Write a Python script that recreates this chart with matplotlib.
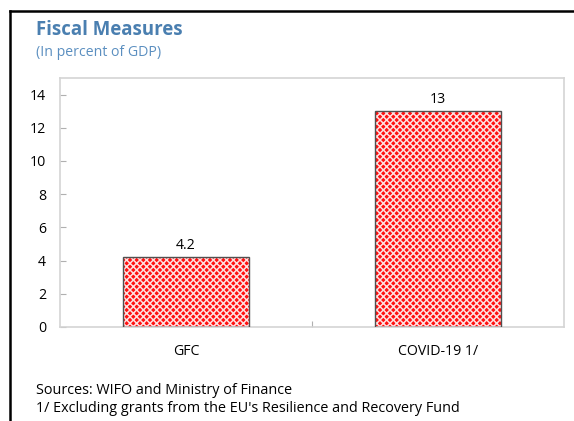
import matplotlib.pyplot as plt
from matplotlib.lines import Line2D

# Data
categories = ['GFC', 'COVID-19 1/']
values = [4.2, 13]
value_labels = ['4.2', '13']
yticks = [0, 2, 4, 6, 8, 10, 12, 14]

plt.rcParams['font.family'] = ['Open Sans', 'DejaVu Sans']
plt.rcParams['hatch.linewidth'] = 1.1

fig = plt.figure(figsize=(5.74, 4.21), dpi=100)
ax = fig.add_axes([60 / 574, 94 / 421, 504 / 574, 249 / 421])

x = range(len(categories))
# hatched fill (white crosshatch on red)
ax.bar(x, values, width=0.5, color='#ff1010', edgecolor='#ffe0e0', hatch='xxxxx', linewidth=0, zorder=2)
# outline
ax.bar(x, values, width=0.5, fill=False, edgecolor='#505050', linewidth=1.0, zorder=3)

for xi, v, lab in zip(x, values, value_labels):
    ax.text(xi, v + 0.25, lab, ha='center', va='bottom', fontsize=10.2)

ax.set_xlim(-0.5, 1.5)
ax.set_ylim(0, 15)
ax.set_yticks(yticks)
ax.set_xticks([0.5], minor=False)
ax.set_xticklabels([''])
for xi, c in zip(x, categories):
    ax.text(xi, -1.0, c, ha='center', va='top', fontsize=10.2)

for s in ax.spines.values():
    s.set_color('#d4d4d4')
    s.set_linewidth(1.2)
ax.tick_params(axis='y', direction='in', length=4, color='#b0b0b0', labelsize=10.2, pad=10)
ax.tick_params(axis='x', direction='in', length=4, color='#b0b0b0')

# Titles
fig.text(36 / 574, 1 - 30 / 421, 'Fiscal Measures', fontsize=13.4, fontweight='bold',
         color='#4a7fb0', va='center', ha='left')
fig.text(36 / 574, 1 - 52 / 421, '(In percent of GDP)', fontsize=10.2,
         color='#5b8fc0', va='center', ha='left')

# Footnotes
fig.text(36 / 574, 1 - 390 / 421, 'Sources: WIFO and Ministry of Finance', fontsize=10.4, va='center', ha='left')
fig.text(36 / 574, 1 - 409 / 421, "1/ Excluding grants from the EU's Resilience and Recovery Fund",
         fontsize=10.4, va='center', ha='left')

# Frame lines (left and top)
fig.add_artist(Line2D([10 / 574, 10 / 574], [0, 1 - 11 / 421], color='black', linewidth=1.8))
fig.add_artist(Line2D([10 / 574, 1], [1 - 11 / 421, 1 - 11 / 421], color='black', linewidth=1.8))

fig.savefig('out.png', dpi=100)
